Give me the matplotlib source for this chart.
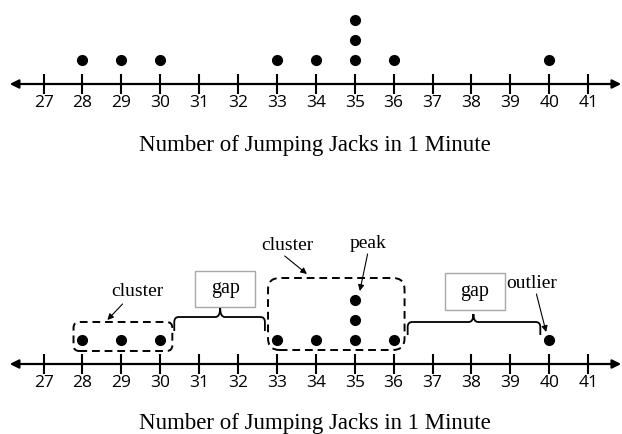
import matplotlib.pyplot as plt
import numpy as np
from matplotlib.patches import FancyBboxPatch, Rectangle, PathPatch
from matplotlib.path import Path

# data
jacks = [28, 29, 30, 33, 34, 35, 35, 35, 36, 40]
ticks = list(range(27, 42))
xlabel = 'Number of Jumping Jacks in 1 Minute'

serif = 'Liberation Serif'
sans = 'Open Sans'

fig = plt.figure(figsize=(6.22, 4.34), dpi=100)

xmin, xmax = 25.88, 41.87
px = 38.93  # pixels per unit on x
py = 20.0   # pixels per dot level


def number_line(ax, title_y):
    ax.set_xlim(xmin, xmax)
    ax.axis('off')
    # main line with arrow heads
    ax.annotate('', xy=(26.13, 0), xytext=(41.85, 0),
                arrowprops=dict(arrowstyle='<|-|>', lw=1.6, color='black',
                                mutation_scale=13, shrinkA=0, shrinkB=0))
    ax.vlines(ticks, -0.5, 0.5, color='black', lw=1.5)
    for t in ticks:
        ax.text(t, -0.95, str(t), ha='center', va='center',
                fontsize=12.5, family=sans, color='black')
    # stacked dots
    seen = {}
    xs, ys = [], []
    for v in jacks:
        seen[v] = seen.get(v, 0) + 1
        xs.append(v)
        ys.append(0.2 + seen[v])
    ax.plot(xs, ys, 'o', color='black', ms=7, zorder=5)
    ax.text(33.97, title_y, xlabel, ha='center', va='center',
            fontsize=16.5, family=serif)


# top panel
ax1 = fig.add_axes([0, 217 / 434, 1, 217 / 434])
ax1.set_ylim(-133 / py, 84 / py)
number_line(ax1, -3.05)

# bottom panel
ax2 = fig.add_axes([0, 0, 1, 217 / 434])
ax2.set_ylim(-70 / py, 147 / py)
number_line(ax2, -2.95)

asp = px / py
dash = (0, (4, 2.5))

# cluster boxes
ax2.add_patch(FancyBboxPatch((27.77, 0.65), 30.31 - 27.77, 2.1 - 0.65,
                             boxstyle='round,pad=0,rounding_size=0.15',
                             mutation_aspect=asp, fill=False, ec='black',
                             lw=1.4, ls=dash))
ax2.add_patch(FancyBboxPatch((32.77, 0.7), 36.28 - 32.77, 4.3 - 0.7,
                             boxstyle='round,pad=0,rounding_size=0.3',
                             mutation_aspect=asp, fill=False, ec='black',
                             lw=1.4, ls=dash))

# gap boxes
for x0, x1, y0, y1 in [(30.9, 32.44, 2.85, 4.65), (37.31, 38.85, 2.7, 4.55)]:
    ax2.add_patch(Rectangle((x0, y0), x1 - x0, y1 - y0, fill=False,
                            ec='#a8a8a8', lw=1))
    ax2.text((x0 + x1) / 2, (y0 + y1) / 2, 'gap', ha='center', va='center',
             fontsize=14.5, family=serif)


def brace(ax, x0, x1, xm, ytop, yend, ytip):
    rx, ry = 0.12, 0.25
    verts = [(x0, yend), (x0, ytop - ry), (x0, ytop), (x0 + rx, ytop),
             (xm - rx, ytop), (xm, ytop), (xm, ytip),
             (xm, ytop), (xm + rx, ytop),
             (x1 - rx, ytop), (x1, ytop), (x1, ytop - ry), (x1, yend)]
    codes = [Path.MOVETO, Path.LINETO, Path.CURVE3, Path.CURVE3,
             Path.LINETO, Path.CURVE3, Path.CURVE3,
             Path.CURVE3, Path.CURVE3,
             Path.LINETO, Path.CURVE3, Path.CURVE3, Path.LINETO]
    ax.add_patch(PathPatch(Path(verts, codes), fill=False, ec='black', lw=1.3))


brace(ax2, 30.36, 32.69, 31.54, 2.35, 1.65, 2.8)
brace(ax2, 36.36, 39.77, 38.05, 2.1, 1.45, 2.5)

# labels with arrows
arrow = dict(arrowstyle='-|>', lw=0.8, color='black', mutation_scale=9,
             shrinkA=0, shrinkB=0)
ax2.text(29.41, 3.65, 'cluster', ha='center', va='center', fontsize=14, family=serif)
ax2.annotate('', xy=(28.64, 2.2), xytext=(29.03, 3.0), arrowprops=arrow)
ax2.text(33.26, 5.9, 'cluster', ha='center', va='center', fontsize=14, family=serif)
ax2.annotate('', xy=(33.77, 4.5), xytext=(33.2, 5.4), arrowprops=arrow)
ax2.text(35.33, 6.0, 'peak', ha='center', va='center', fontsize=14, family=serif)
ax2.annotate('', xy=(35.13, 3.65), xytext=(35.33, 5.5), arrowprops=arrow)
ax2.text(39.54, 4.05, 'outlier', ha='center', va='center', fontsize=14, family=serif)
ax2.annotate('', xy=(39.92, 1.6), xytext=(39.67, 3.5), arrowprops=arrow)

fig.savefig('out.png', dpi=100)
